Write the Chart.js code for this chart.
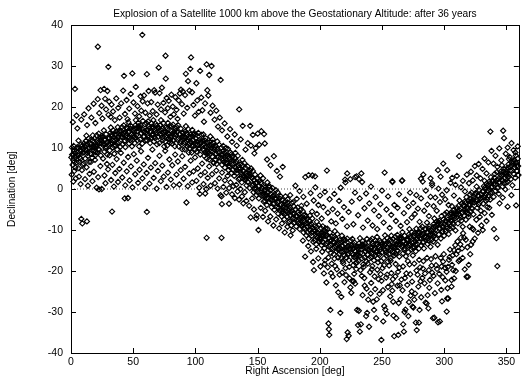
<!DOCTYPE html>
<html>
<head>
<meta charset="utf-8">
<script src="https://cdn.jsdelivr.net/npm/chart.js@4.4.0/dist/chart.umd.min.js"></script>
<style>
  html, body { margin: 0; padding: 0; background: #fff; }
  #wrap { width: 524px; height: 383px; }
</style>
</head>
<body>
<div id="wrap"><canvas id="chart" width="524" height="383"></canvas></div>
<script>
const chartTitle = "Explosion of a Satellite 1000 km above the Geostationary Altitude: after 36 years";
const xTitle = "Right Ascension [deg]";
const yTitle = "Declination [deg]";
const xTicks = [0, 50, 100, 150, 200, 250, 300, 350];
const yTicks = [-40, -30, -20, -10, 0, 10, 20, 30, 40];

// [right ascension, declination], dense band first
const bandNorth = [
  [0.3,7.7],[0.8,10.1],[1.2,5.9],[1.7,8.3],[2.1,10.5],[2.6,6.6],[3.0,8.8],[3.5,5.2],[4.1,8.1],[4.7,10.0],
  [5.1,10.2],[5.6,8.2],[6.0,11.8],[6.5,6.6],[7.3,9.5],[7.8,7.4],[8.3,10.9],[8.9,8.8],[9.4,5.9],[9.9,9.9],
  [10.4,8.9],[10.9,10.4],[11.4,7.4],[11.9,11.7],[12.4,13.0],[12.9,9.4],[13.2,11.0],[13.7,8.1],[14.2,12.3],[14.6,6.6],
  [15.2,11.2],[15.5,8.6],[16.1,12.0],[16.6,10.1],[17.0,7.6],[17.5,13.1],[18.1,10.5],[18.6,9.3],[19.0,12.3],[19.8,8.3],
  [20.1,10.7],[20.6,13.1],[21.0,8.9],[21.5,11.3],[22.3,13.5],[22.8,9.6],[23.3,11.8],[23.9,8.2],[24.4,11.1],[24.9,13.0],
  [25.4,12.7],[25.9,10.7],[26.4,14.3],[26.9,9.1],[27.4,12.0],[27.9,9.9],[28.2,13.4],[28.7,11.3],[29.2,8.4],[29.6,12.4],
  [30.2,10.9],[30.5,12.4],[31.1,9.4],[31.6,13.7],[32.0,15.0],[32.5,11.4],[33.1,13.0],[33.6,10.1],[34.0,14.3],[34.8,8.6],
  [35.3,13.2],[35.8,10.6],[36.2,14.0],[36.7,12.1],[37.1,9.6],[37.6,15.1],[38.0,12.5],[38.5,11.3],[39.1,14.3],[39.7,10.3],
  [40.4,12.7],[40.9,15.1],[41.4,10.9],[41.9,13.3],[42.4,15.5],[42.9,11.6],[43.2,13.8],[43.7,10.2],[44.2,13.1],[44.6,15.0],
  [45.2,14.7],[45.5,12.7],[46.1,16.3],[46.6,11.1],[47.0,14.0],[47.5,11.9],[48.1,15.4],[48.6,13.3],[49.0,10.4],[49.8,14.4],
  [50.3,12.7],[50.8,14.2],[51.2,11.2],[51.7,15.5],[52.1,16.8],[52.6,13.2],[53.0,14.8],[53.5,11.9],[54.1,16.1],[54.7,10.4],
  [55.1,14.7],[55.6,12.1],[56.0,15.5],[56.5,13.6],[57.3,11.1],[57.8,16.6],[58.3,14.0],[58.9,12.8],[59.4,15.8],[59.9,11.8],
  [60.2,13.7],[60.5,16.1],[61.1,11.9],[61.6,14.3],[62.0,16.5],[62.5,12.6],[63.1,14.8],[63.6,11.2],[64.0,14.1],[64.8,16.0],
  [65.3,15.2],[65.8,13.2],[66.2,16.8],[66.7,11.6],[67.1,14.5],[67.6,12.4],[68.0,15.9],[68.5,13.8],[69.1,10.9],[69.7,14.9],
  [70.1,12.7],[70.6,14.2],[71.0,11.2],[71.5,15.5],[72.3,16.8],[72.8,13.2],[73.3,14.8],[73.9,11.9],[74.4,16.1],[74.9,10.4],
  [75.4,14.2],[75.9,11.6],[76.4,15.0],[76.9,13.1],[77.4,10.6],[77.9,16.1],[78.2,13.5],[78.7,12.3],[79.2,15.3],[79.6,11.3],
  [80.3,12.9],[80.8,15.3],[81.2,11.1],[81.7,13.5],[82.1,15.7],[82.6,11.8],[83.0,14.0],[83.5,10.4],[84.1,13.3],[84.7,15.2],
  [85.1,14.0],[85.6,12.0],[86.0,15.6],[86.5,10.4],[87.3,13.3],[87.8,11.2],[88.3,14.7],[88.9,12.6],[89.4,9.7],[89.9,13.7],
  [90.4,11.2],[90.9,12.7],[91.4,9.7],[91.9,14.0],[92.4,15.3],[92.9,11.7],[93.2,13.3],[93.7,10.4],[94.2,14.6],[94.6,8.9],
  [95.2,12.5],[95.5,9.9],[96.1,13.3],[96.6,11.4],[97.0,8.9],[97.5,14.4],[98.1,11.8],[98.6,10.6],[99.0,13.6],[99.8,9.6],
  [100.1,10.9],[100.6,13.3],[101.0,9.1],[101.5,11.5],[102.3,13.7],[102.8,9.8],[103.3,12.0],[103.9,8.4],[104.4,11.3],[104.9,13.2],
  [105.4,11.7],[105.9,9.7],[106.4,13.3],[106.9,8.1],[107.4,11.0],[107.9,8.9],[108.2,12.4],[108.7,10.3],[109.2,7.4],[109.6,11.4],
  [110.2,8.7],[110.5,10.2],[111.1,7.2],[111.6,11.5],[112.0,12.8],[112.5,9.2],[113.1,10.8],[113.6,7.9],[114.0,12.1],[114.8,6.4],
  [115.3,9.7],[115.8,7.1],[116.2,10.5],[116.7,8.6],[117.1,6.1],[117.6,11.6],[118.0,9.0],[118.5,7.8],[119.1,10.8],[119.7,6.8],
  [120.4,7.7],[120.9,10.1],[121.4,5.9],[121.9,8.3],[122.4,10.5],[122.9,6.6],[123.2,8.8],[123.7,5.2],[124.2,8.1],[124.6,10.0],
  [125.2,8.2],[125.5,6.2],[126.1,9.8],[126.6,4.6],[127.0,7.5],[127.5,5.4],[128.1,8.9],[128.6,6.8],[129.0,3.9],[129.8,7.9],
  [130.3,4.7],[130.8,6.2],[131.2,3.2],[131.7,7.5],[132.1,8.8],[132.6,5.2],[133.0,6.8],[133.5,3.9],[134.1,8.1],[134.7,2.4],
  [135.1,5.2],[135.6,2.6],[136.0,6.0],[136.5,4.1],[137.3,1.6],[137.8,7.1],[138.3,4.5],[138.9,3.3],[139.4,6.3],[139.9,2.3],
  [140.2,2.7],[140.5,5.1],[141.1,0.9],[141.6,3.3],[142.0,5.5],[142.5,1.6],[143.1,3.8],[143.6,0.2],[144.0,3.1],[144.8,5.0],
  [145.3,2.8],[145.8,0.8],[146.2,4.4],[146.7,-0.8],[147.1,2.1],[147.6,0.0],[148.0,3.5],[148.5,1.4],[149.1,-1.5],[149.7,2.5],
  [150.1,-0.8],[150.6,0.7],[151.0,-2.3],[151.5,2.0],[152.3,3.3],[152.8,-0.3],[153.3,1.3],[153.9,-1.6],[154.4,2.6],[154.9,-3.1],
  [155.4,-0.3],[155.9,-2.9],[156.4,0.5],[156.9,-1.4],[157.4,-3.9],[157.9,1.6],[158.2,-1.0],[158.7,-2.2],[159.2,0.8],[159.6,-3.2],
  [160.3,-2.6],[160.8,-0.2],[161.2,-4.4],[161.7,-2.0],[162.1,0.2],[162.6,-3.7],[163.0,-1.5],[163.5,-5.1],[164.1,-2.2],[164.7,-0.3],
  [165.1,-2.4],[165.6,-4.4],[166.0,-0.8],[166.5,-6.0],[167.3,-3.1],[167.8,-5.2],[168.3,-1.7],[168.9,-3.8],[169.4,-6.7],[169.9,-2.7],
  [170.4,-5.9],[170.9,-4.4],[171.4,-7.4],[171.9,-3.1],[172.4,-1.8],[172.9,-5.4],[173.2,-3.8],[173.7,-6.7],[174.2,-2.5],[174.6,-8.2],
  [175.2,-5.3],[175.5,-7.9],[176.1,-4.5],[176.6,-6.4],[177.0,-8.9],[177.5,-3.4],[178.1,-6.0],[178.6,-7.2],[179.0,-4.2],[179.8,-8.2]
];

const bandSouth = [
  [180.1,-7.3],[180.6,-4.9],[181.0,-9.1],[181.5,-6.7],[182.3,-4.5],[182.8,-8.4],[183.3,-6.2],[183.9,-9.8],[184.4,-6.9],[184.9,-5.0],
  [185.4,-7.0],[185.9,-9.0],[186.4,-5.4],[186.9,-10.6],[187.4,-7.7],[187.9,-9.8],[188.2,-6.3],[188.7,-8.4],[189.2,-11.3],[189.6,-7.3],
  [190.2,-10.6],[190.5,-9.1],[191.1,-12.1],[191.6,-7.8],[192.0,-6.5],[192.5,-10.1],[193.1,-8.5],[193.6,-11.4],[194.0,-7.2],[194.8,-12.9],
  [195.3,-9.9],[195.8,-12.5],[196.2,-9.1],[196.7,-11.0],[197.1,-13.5],[197.6,-8.0],[198.0,-10.6],[198.5,-11.8],[199.1,-8.8],[199.7,-12.8],
  [200.4,-11.9],[200.9,-9.5],[201.4,-13.7],[201.9,-11.3],[202.4,-9.1],[202.9,-13.0],[203.2,-10.8],[203.7,-14.4],[204.2,-11.5],[204.6,-9.6],
  [205.2,-11.3],[205.5,-13.3],[206.1,-9.7],[206.6,-14.9],[207.0,-12.0],[207.5,-14.1],[208.1,-10.6],[208.6,-12.7],[209.0,-15.6],[209.8,-11.6],
  [210.3,-14.4],[210.8,-12.9],[211.2,-15.9],[211.7,-11.6],[212.1,-10.3],[212.6,-13.9],[213.0,-12.3],[213.5,-15.2],[214.1,-11.0],[214.7,-16.7],
  [215.1,-13.3],[215.6,-15.9],[216.0,-12.5],[216.5,-14.4],[217.3,-16.9],[217.8,-11.4],[218.3,-14.0],[218.9,-15.2],[219.4,-12.2],[219.9,-16.2],
  [220.2,-14.9],[220.5,-12.5],[221.1,-16.7],[221.6,-14.3],[222.0,-12.1],[222.5,-16.0],[223.1,-13.8],[223.6,-17.4],[224.0,-14.5],[224.8,-12.6],
  [225.3,-13.8],[225.8,-15.8],[226.2,-12.2],[226.7,-17.4],[227.1,-14.5],[227.6,-16.6],[228.0,-13.1],[228.5,-15.2],[229.1,-18.1],[229.7,-14.1],
  [230.1,-16.1],[230.6,-14.6],[231.0,-17.6],[231.5,-13.3],[232.3,-12.0],[232.8,-15.6],[233.3,-14.0],[233.9,-16.9],[234.4,-12.7],[234.9,-18.4],
  [235.4,-14.1],[235.9,-16.7],[236.4,-13.3],[236.9,-15.2],[237.4,-17.7],[237.9,-12.2],[238.2,-14.8],[238.7,-16.0],[239.2,-13.0],[239.6,-17.0],
  [240.3,-14.9],[240.8,-12.5],[241.2,-16.7],[241.7,-14.3],[242.1,-12.1],[242.6,-16.0],[243.0,-13.8],[243.5,-17.4],[244.1,-14.5],[244.7,-12.6],
  [245.1,-13.3],[245.6,-15.3],[246.0,-11.7],[246.5,-16.9],[247.3,-14.0],[247.8,-16.1],[248.3,-12.6],[248.9,-14.7],[249.4,-17.6],[249.9,-13.6],
  [250.4,-15.4],[250.9,-13.9],[251.4,-16.9],[251.9,-12.6],[252.4,-11.3],[252.9,-14.9],[253.2,-13.3],[253.7,-16.2],[254.2,-12.0],[254.6,-17.7],
  [255.2,-13.3],[255.5,-15.9],[256.1,-12.5],[256.6,-14.4],[257.0,-16.9],[257.5,-11.4],[258.1,-14.0],[258.6,-15.2],[259.0,-12.2],[259.8,-16.2],
  [260.1,-14.0],[260.6,-11.6],[261.0,-15.8],[261.5,-13.4],[262.3,-11.2],[262.8,-15.1],[263.3,-12.9],[263.9,-16.5],[264.4,-13.6],[264.9,-11.7],
  [265.4,-12.1],[265.9,-14.1],[266.4,-10.5],[266.9,-15.7],[267.4,-12.8],[267.9,-14.9],[268.2,-11.4],[268.7,-13.5],[269.2,-16.4],[269.6,-12.4],
  [270.2,-13.9],[270.5,-12.4],[271.1,-15.4],[271.6,-11.1],[272.0,-9.8],[272.5,-13.4],[273.1,-11.8],[273.6,-14.7],[274.0,-10.5],[274.8,-16.2],
  [275.3,-11.6],[275.8,-14.2],[276.2,-10.8],[276.7,-12.7],[277.1,-15.2],[277.6,-9.7],[278.0,-12.3],[278.5,-13.5],[279.1,-10.5],[279.7,-14.5],
  [280.4,-12.0],[280.9,-9.6],[281.4,-13.8],[281.9,-11.4],[282.4,-9.2],[282.9,-13.1],[283.2,-10.9],[283.7,-14.5],[284.2,-11.6],[284.6,-9.7],
  [285.2,-9.8],[285.5,-11.8],[286.1,-8.2],[286.6,-13.4],[287.0,-10.5],[287.5,-12.6],[288.1,-9.1],[288.6,-11.2],[289.0,-14.1],[289.8,-10.1],
  [290.3,-11.3],[290.8,-9.8],[291.2,-12.8],[291.7,-8.5],[292.1,-7.2],[292.6,-10.8],[293.0,-9.2],[293.5,-12.1],[294.1,-7.9],[294.7,-13.6],
  [295.1,-8.5],[295.6,-11.1],[296.0,-7.7],[296.5,-9.6],[297.3,-12.1],[297.8,-6.6],[298.3,-9.2],[298.9,-10.4],[299.4,-7.4],[299.9,-11.4],
  [300.2,-8.5],[300.5,-6.1],[301.1,-10.3],[301.6,-7.9],[302.0,-5.7],[302.5,-9.6],[303.1,-7.4],[303.6,-11.0],[304.0,-8.1],[304.8,-6.2],
  [305.3,-5.8],[305.8,-7.8],[306.2,-4.2],[306.7,-9.4],[307.1,-6.5],[307.6,-8.6],[308.0,-5.1],[308.5,-7.2],[309.1,-10.1],[309.7,-6.1],
  [310.1,-6.9],[310.6,-5.4],[311.0,-8.4],[311.5,-4.1],[312.3,-2.8],[312.8,-6.4],[313.3,-4.8],[313.9,-7.7],[314.4,-3.5],[314.9,-9.2],
  [315.4,-3.9],[315.9,-6.5],[316.4,-3.1],[316.9,-5.0],[317.4,-7.5],[317.9,-2.0],[318.2,-4.6],[318.7,-5.8],[319.2,-2.8],[319.6,-6.8],
  [320.3,-3.7],[320.8,-1.3],[321.2,-5.5],[321.7,-3.1],[322.1,-0.9],[322.6,-4.8],[323.0,-2.6],[323.5,-6.2],[324.1,-3.3],[324.7,-1.4],
  [325.1,-1.0],[325.6,-3.0],[326.0,0.6],[326.5,-4.6],[327.3,-1.7],[327.8,-3.8],[328.3,-0.3],[328.9,-2.4],[329.4,-5.3],[329.9,-1.3],
  [330.4,-2.1],[330.9,-0.6],[331.4,-3.6],[331.9,0.7],[332.4,2.0],[332.9,-1.6],[333.2,0.0],[333.7,-2.9],[334.2,1.3],[334.6,-4.4],
  [335.2,1.0],[335.5,-1.6],[336.1,1.8],[336.6,-0.1],[337.0,-2.6],[337.5,2.9],[338.1,0.3],[338.6,-0.9],[339.0,2.1],[339.8,-1.9],
  [340.1,1.3],[340.6,3.7],[341.0,-0.5],[341.5,1.9],[342.3,4.1],[342.8,0.2],[343.3,2.4],[343.9,-1.2],[344.4,1.7],[344.9,3.6],
  [345.4,4.2],[345.9,2.2],[346.4,5.8],[346.9,0.6],[347.4,3.5],[347.9,1.4],[348.2,4.9],[348.7,2.8],[349.2,-0.1],[349.6,3.9],
  [350.2,3.2],[350.5,4.7],[351.1,1.7],[351.6,6.0],[352.0,7.3],[352.5,3.7],[353.1,5.3],[353.6,2.4],[354.0,6.6],[354.8,0.9],
  [355.3,6.3],[355.8,3.7],[356.2,7.1],[356.7,5.2],[357.1,2.7],[357.6,8.2],[358.0,5.6],[358.5,4.4],[359.1,7.4],[359.7,3.4]
];

// the blackest middle of the band
const bandCore = [
  [0.9,8.4],[1.9,7.0],[2.7,9.3],[3.8,7.8],[4.6,6.5],[5.2,8.3],[6.1,9.9],[7.0,7.7],[8.0,9.2],[9.0,10.5],
  [10.5,11.1],[11.4,9.6],[12.4,10.6],[13.3,8.8],[14.4,10.0],[15.9,10.9],[16.9,9.5],[17.7,11.8],[18.8,10.3],[19.6,9.0],
  [20.2,10.3],[21.1,11.9],[22.0,9.7],[23.0,11.2],[24.0,12.5],[25.5,12.6],[26.4,11.1],[27.4,12.1],[28.3,10.3],[29.4,11.5],
  [30.9,12.4],[31.9,11.0],[32.7,13.3],[33.8,11.8],[34.6,10.5],[35.2,11.8],[36.1,13.4],[37.0,11.2],[38.0,12.7],[39.0,14.0],
  [40.5,14.1],[41.4,12.6],[42.4,13.6],[43.3,11.8],[44.4,13.0],[45.9,13.9],[46.9,12.5],[47.7,14.8],[48.8,13.3],[49.6,12.0],
  [50.2,13.1],[51.1,14.7],[52.0,12.5],[53.0,14.0],[54.0,15.3],[55.5,15.1],[56.4,13.6],[57.4,14.6],[58.3,12.8],[59.4,14.0],
  [60.9,14.4],[61.9,13.0],[62.7,15.3],[63.8,13.8],[64.6,12.5],[65.2,13.3],[66.1,14.9],[67.0,12.7],[68.0,14.2],[69.0,15.5],
  [70.5,14.9],[71.4,13.4],[72.4,14.4],[73.3,12.6],[74.4,13.8],[75.9,13.9],[76.9,12.5],[77.7,14.8],[78.8,13.3],[79.6,12.0],
  [80.2,12.5],[81.1,14.1],[82.0,11.9],[83.0,13.4],[84.0,14.7],[85.5,13.9],[86.4,12.4],[87.4,13.4],[88.3,11.6],[89.4,12.8],
  [90.9,12.7],[91.9,11.3],[92.7,13.6],[93.8,12.1],[94.6,10.8],[95.2,11.1],[96.1,12.7],[97.0,10.5],[98.0,12.0],[99.0,13.3],
  [100.5,12.3],[101.4,10.8],[102.4,11.8],[103.3,10.0],[104.4,11.2],[105.9,10.9],[106.9,9.5],[107.7,11.8],[108.8,10.3],[109.6,9.0],
  [110.2,9.1],[111.1,10.7],[112.0,8.5],[113.0,10.0],[114.0,11.3],[115.5,10.1],[116.4,8.6],[117.4,9.6],[118.3,7.8],[119.4,9.0],
  [120.9,8.4],[121.9,7.0],[122.7,9.3],[123.8,7.8],[124.6,6.5],[125.2,6.3],[126.1,7.9],[127.0,5.7],[128.0,7.2],[129.0,8.5],
  [130.5,6.9],[131.4,5.4],[132.4,6.4],[133.3,4.6],[134.4,5.8],[135.9,4.9],[136.9,3.5],[137.7,5.8],[138.8,4.3],[139.6,3.0],
  [140.2,2.3],[141.1,3.9],[142.0,1.7],[143.0,3.2],[144.0,4.5],[145.5,2.7],[146.4,1.2],[147.4,2.2],[148.3,0.4],[149.4,1.6],
  [150.9,0.7],[151.9,-0.7],[152.7,1.6],[153.8,0.1],[154.6,-1.2],[155.2,-1.7],[156.1,-0.1],[157.0,-2.3],[158.0,-0.8],[159.0,0.5],
  [160.5,-1.2],[161.4,-2.7],[162.4,-1.7],[163.3,-3.5],[164.4,-2.3],[165.9,-3.2],[166.9,-4.6],[167.7,-2.3],[168.8,-3.8],[169.6,-5.1],
  [170.2,-5.5],[171.1,-3.9],[172.0,-6.1],[173.0,-4.6],[174.0,-3.3],[175.5,-4.9],[176.4,-6.4],[177.4,-5.4],[178.3,-7.2],[179.4,-6.0],
  [180.9,-6.6],[181.9,-8.0],[182.7,-5.7],[183.8,-7.2],[184.6,-8.5],[185.2,-8.9],[186.1,-7.3],[187.0,-9.5],[188.0,-8.0],[189.0,-6.7],
  [190.5,-8.4],[191.4,-9.9],[192.4,-8.9],[193.3,-10.7],[194.4,-9.5],[195.9,-10.2],[196.9,-11.6],[197.7,-9.3],[198.8,-10.8],[199.6,-12.1],
  [200.2,-12.3],[201.1,-10.7],[202.0,-12.9],[203.0,-11.4],[204.0,-10.1],[205.5,-11.4],[206.4,-12.9],[207.4,-11.9],[208.3,-13.7],[209.4,-12.5],
  [210.9,-12.9],[211.9,-14.3],[212.7,-12.0],[213.8,-13.5],[214.6,-14.8],[215.2,-14.7],[216.1,-13.1],[217.0,-15.3],[218.0,-13.8],[219.0,-12.5],
  [220.5,-13.5],[221.4,-15.0],[222.4,-14.0],[223.3,-15.8],[224.4,-14.6],[225.9,-14.6],[226.9,-16.0],[227.7,-13.7],[228.8,-15.2],[229.6,-16.5],
  [230.2,-15.7],[231.1,-14.1],[232.0,-16.3],[233.0,-14.8],[234.0,-13.5],[235.5,-13.7],[236.4,-15.2],[237.4,-14.2],[238.3,-16.0],[239.4,-14.8],
  [240.9,-14.2],[241.9,-15.6],[242.7,-13.3],[243.8,-14.8],[244.6,-16.1],[245.2,-15.2],[246.1,-13.6],[247.0,-15.8],[248.0,-14.3],[249.0,-13.0],
  [250.5,-13.2],[251.4,-14.7],[252.4,-13.7],[253.3,-15.5],[254.4,-14.3],[255.9,-13.6],[256.9,-15.0],[257.7,-12.7],[258.8,-14.2],[259.6,-15.5],
  [260.2,-14.4],[261.1,-12.8],[262.0,-15.0],[263.0,-13.5],[264.0,-12.2],[265.5,-12.2],[266.4,-13.7],[267.4,-12.7],[268.3,-14.5],[269.4,-13.3],
  [270.9,-12.4],[271.9,-13.8],[272.7,-11.5],[273.8,-13.0],[274.6,-14.3],[275.2,-13.0],[276.1,-11.4],[277.0,-13.6],[278.0,-12.1],[279.0,-10.8],
  [280.5,-10.6],[281.4,-12.1],[282.4,-11.1],[283.3,-12.9],[284.4,-11.7],[285.9,-10.6],[286.9,-12.0],[287.7,-9.7],[288.8,-11.2],[289.6,-12.5],
  [290.2,-10.9],[291.1,-9.3],[292.0,-11.5],[293.0,-10.0],[294.0,-8.7],[295.5,-8.1],[296.4,-9.6],[297.4,-8.6],[298.3,-10.4],[299.4,-9.2],
  [300.9,-7.8],[301.9,-9.2],[302.7,-6.9],[303.8,-8.4],[304.6,-9.7],[305.2,-7.7],[306.1,-6.1],[307.0,-8.3],[308.0,-6.8],[309.0,-5.5],
  [310.5,-4.7],[311.4,-6.2],[312.4,-5.2],[313.3,-7.0],[314.4,-5.8],[315.9,-4.2],[316.9,-5.6],[317.7,-3.3],[318.8,-4.8],[319.6,-6.1],
  [320.2,-4.1],[321.1,-2.5],[322.0,-4.7],[323.0,-3.2],[324.0,-1.9],[325.5,-1.1],[326.4,-2.6],[327.4,-1.6],[328.3,-3.4],[329.4,-2.2],
  [330.9,-0.6],[331.9,-2.0],[332.7,0.3],[333.8,-1.2],[334.6,-2.5],[335.2,-0.4],[336.1,1.2],[337.0,-1.0],[338.0,0.5],[339.0,1.8],
  [340.5,2.7],[341.4,1.2],[342.4,2.2],[343.3,0.4],[344.4,1.6],[345.9,3.4],[346.9,2.0],[347.7,4.3],[348.8,2.8],[349.6,1.5],
  [350.2,3.6],[351.1,5.2],[352.0,3.0],[353.0,4.5],[354.0,5.8],[355.5,6.7],[356.4,5.2],[357.4,6.2],[358.3,4.4],[359.4,5.6]
];

// fragments spread north of the band (RA 0-170)
const scatterNorthHigh = [
  [1.5,16.3],[3.2,24.4],[5.1,14.8],[4.4,17.9],[8.3,16.9],[10.6,18.2],[12.9,15.6],[14.1,19.7],[16.4,17.4],[18.2,20.8],
  [19.6,16.1],[21.5,21.9],[21.6,34.7],[22.7,18.5],[23.8,24.1],[24.6,20.3],[25.3,17.2],[26.6,24.4],[27.4,22.0],[28.2,19.4],
  [29.3,23.9],[30.1,18.1],[30.0,29.8],[30.7,21.3],[31.9,17.6],[32.6,20.6],[33.8,18.9],[35.2,16.8],[36.4,22.1],[37.9,19.8],
  [39.1,17.4],[40.3,20.9],[41.9,24.0],[42.6,27.6],[43.4,18.3],[44.7,21.7],[45.5,17.0],[46.8,19.6],[48.0,23.2],[49.3,28.2],
  [50.2,21.1],[51.4,18.4],[52.1,24.9],[53.5,20.2],[54.8,17.7],[55.9,22.6],[56.5,19.1],[57.3,37.6],[57.6,21.4],[58.7,22.8],
  [59.8,18.6],[61.0,28.0],[61.6,20.9],[62.4,23.9],[63.3,17.9],[64.5,21.2],[65.7,19.0],[66.9,24.1],[67.6,23.5],[68.8,18.2],
  [69.7,20.6],[70.5,29.6],[71.2,23.4],[72.4,19.4],[73.1,24.7],[74.3,21.0],[75.6,18.7],[76.0,32.5],[76.2,26.9],[76.9,22.2],
  [77.8,19.7],[78.6,21.5],[79.9,17.6],[80.7,23.0],[81.8,20.1],[82.6,18.2],[83.9,22.4],[84.8,19.3],[85.7,17.1],[86.6,21.6],
  [87.5,23.3],[88.4,24.2],[89.2,20.7],[89.9,23.8],[90.6,18.4],[91.7,22.9],[92.3,28.1],[93.4,19.8],[94.1,26.3],[95.2,24.0],
  [95.9,29.3],[96.5,32.1],[97.3,23.6],[98.4,20.5],[99.6,17.9],[100.8,25.8],[101.5,21.6],[102.6,18.8],[103.8,28.8],[104.7,22.3],
  [105.6,19.2],[106.9,16.4],[107.8,20.9],[109.0,30.4],[109.6,24.1],[110.4,22.8],[111.1,27.8],[112.2,18.6],[113.0,30.0],[113.8,20.3],
  [115.4,16.9],[116.8,19.1],[118.2,15.2],[119.6,17.4],[120.3,26.6],[121.4,14.3],[123.5,16.0],[125.7,12.8],[127.9,14.6],[129.4,11.5],
  [131.6,13.3],[133.2,10.6],[135.2,19.4],[136.4,12.1],[138.0,15.4],[140.3,9.6],[142.1,11.2],[144.0,15.4],[144.6,10.6],[146.2,13.2],
  [147.4,8.7],[148.5,10.0],[150.1,13.5],[151.3,10.8],[153.0,14.1],[155.2,13.4],[155.8,11.1],[157.6,7.2],[160.4,5.8],[163.1,8.0],
  [165.5,4.4],[168.0,3.0],[170.2,5.4]
];

const scatterNorthLow = [
  [0.6,3.5],[1.9,1.8],[2.7,4.4],[3.9,2.6],[5.8,5.1],[6.4,3.0],[7.7,1.2],[8.8,4.6],[10.1,6.2],[11.3,2.4],
  [12.5,5.3],[13.6,0.8],[14.9,3.7],[16.0,6.6],[17.2,1.9],[18.4,4.2],[19.3,7.1],[20.6,0.3],[21.8,2.9],[22.5,-0.1],
  [23.6,5.6],[24.7,0.0],[25.8,7.4],[26.9,3.3],[27.7,1.4],[28.9,6.1],[29.8,4.8],[31.1,8.2],[32.2,2.2],[33.3,5.9],
  [34.5,0.6],[35.6,3.9],[36.7,7.3],[37.8,1.7],[38.9,4.9],[40.1,8.8],[41.2,2.8],[42.4,6.4],[43.6,0.9],[44.8,4.3],
  [45.9,7.8],[47.1,2.1],[48.2,5.5],[49.4,0.4],[50.5,8.5],[51.6,3.6],[52.9,6.9],[53.9,1.5],[55.1,4.7],[56.3,9.2],
  [57.4,2.6],[58.5,6.0],[59.7,0.2],[60.8,3.9],[61.9,7.6],[63.1,1.3],[64.2,5.2],[65.4,9.6],[66.5,2.7],[67.7,6.3],
  [68.8,0.1],[69.9,4.4],[71.1,8.1],[72.2,1.9],[73.4,5.7],[74.5,3.0],[75.7,9.3],[76.8,0.5],[77.9,4.0],[79.1,7.2],
  [80.2,2.3],[81.4,5.8],[82.5,0.9],[83.7,8.4],[84.8,3.5],[85.9,6.7],[87.1,1.1],[88.2,4.6],[89.4,8.0],[90.5,2.5],
  [91.7,5.4],[92.8,-3.3],[93.9,0.7],[95.1,3.8],[96.2,6.9],[97.4,1.6],[98.5,4.3],[99.7,7.7],[100.8,2.0],[101.9,5.0],
  [103.1,0.3],[104.2,3.4],[105.4,6.2],[106.5,1.2],[107.7,4.1],[108.8,0.0],[109.9,2.7],[111.1,5.5],[112.2,0.8],[113.4,3.6],
  [114.5,6.4],[115.7,1.4],[116.8,4.5],[117.9,0.1],[119.1,2.6],[120.2,-1.5],[121.4,4.0],[122.5,0.5],[123.7,2.1],[124.8,-0.9],
  [125.9,3.2],[127.1,0.2],[128.2,1.6],[129.4,-1.3],[130.5,0.7],[131.7,-2.2],[132.8,1.0],[133.9,-0.6],[135.1,-2.6],[136.2,0.0],
  [137.4,-1.8],[138.5,-3.5],[139.7,-0.8],[141.0,-2.9],[143.2,-4.1],[144.4,-6.9],[145.6,-2.3],[147.1,-5.0],[148.9,-7.2],[150.7,-10.0],
  [149.4,-6.4],[152.5,-4.6],[154.3,-6.8],[156.1,-5.3],[158.4,-7.9],[160.2,-6.7],[162.7,-8.9],[164.9,-7.4],[167.3,-9.6],[169.6,-8.4],
  [171.8,-10.6],[174.0,-9.2],[176.5,-11.3],[178.2,-10.1],
  [8.3,-7.3],[9.1,-8.4],[12.8,-7.9],[33.0,-5.5],[61.0,-5.6],[43.2,-2.3],[45.8,-2.2],[109.0,-11.9],[121.0,-11.9],[121.3,-3.7],
  [127.0,-3.6],[121.0,-1.8],[103.5,-1.2],[107.9,-1.1]
];

// fragments spread south of the band (RA 170-360)
const scatterSouthHigh = [
  [176.2,-1.5],[178.6,-3.2],[180.4,0.8],[181.5,-2.4],[183.7,-0.5],[185.2,-4.1],[186.8,-1.9],[188.3,2.9],[189.5,-3.6],[191.0,3.4],
  [192.6,-1.0],[193.8,-5.5],[195.1,-2.8],[196.4,0.4],[197.7,-6.1],[198.9,-3.9],[200.2,-1.6],[201.5,-7.2],[202.8,-4.4],[204.1,-0.7],
  [205.7,4.5],[206.5,-5.8],[207.9,-2.5],[209.2,-7.9],[210.4,-4.9],[211.7,-1.2],[212.9,-8.4],[214.3,-6.0],[215.5,-2.9],[216.8,0.3],
  [218.1,-7.3],[219.4,-4.4],[220.6,1.6],[221.9,-9.1],[223.2,-5.6],[224.5,2.4],[225.7,-3.1],[227.0,-8.6],[228.3,-0.9],[229.6,3.1],
  [230.8,-6.4],[232.1,-2.3],[233.4,3.8],[234.7,-9.4],[235.9,-4.7],[237.2,-1.1],[238.5,-7.7],[239.8,-3.5],[241.1,0.6],[242.4,-8.9],
  [243.6,-5.2],[244.9,-2.0],[246.2,-9.8],[247.5,-6.6],[248.7,-3.7],[250.0,-0.4],[251.3,-8.2],[252.1,4.0],[253.6,-5.0],[254.9,-1.8],
  [256.2,-9.5],[257.4,-6.3],[258.3,1.9],[259.9,-3.9],[261.2,-7.8],[262.5,-4.6],[263.7,-1.3],[265.0,-9.0],[266.3,2.1],[267.6,-5.9],
  [268.8,-2.6],[270.1,-8.1],[271.3,-4.3],[272.6,-0.9],[273.8,-7.0],[275.1,-3.4],[276.4,-6.1],[277.6,-1.5],[278.9,-4.8],[280.2,-8.0],
  [281.4,-2.3],[282.7,1.8],[283.9,-5.3],[285.2,-0.4],[286.5,-3.8],[287.7,-6.6],[289.0,-1.9],[290.3,0.9],[291.5,-4.2],[292.8,-2.1],
  [294.0,-5.3],[295.3,0.1],[296.6,-3.2],[297.1,3.0],[298.3,-1.4],[299.2,6.2],[300.8,-2.5],[302.0,-0.3],[303.5,-3.9],[305.1,1.5],
  [306.4,2.7],[307.8,-1.6],[309.1,1.0],[310.2,3.2],[312.0,8.0],[313.5,0.4],[315.0,2.0],[316.7,-0.6],[318.2,3.5],[319.9,1.4],
  [321.5,4.2],[323.0,2.1],[324.6,5.6],[326.1,3.3],[327.7,6.1],[329.2,2.6],[330.8,4.9],[332.4,7.4],[334.0,3.8],[335.5,6.5],
  [337.1,14.0],[338.0,9.3],[339.6,6.2],[341.2,8.1],[342.7,5.4],[344.3,9.9],[345.9,7.0],[347.4,14.2],[348.1,12.4],[349.5,8.6],
  [351.0,10.1],[352.6,7.8],[354.1,11.2],[355.7,9.5],[357.2,8.9],[358.0,6.4],[359.1,10.4],
  [194.0,3.3],[196.2,3.1],[222.0,3.8],[228.4,2.9],[231.5,2.4],[234.0,1.7],[220.3,2.3],[258.4,1.7],[266.0,2.0],[281.3,2.5],
  [283.2,3.5],[295.0,4.6],[302.4,4.6],[289.0,2.6],[290.2,1.4]
];

const scatterSouthLow = [
  [186.4,-12.6],[188.2,-16.5],[190.7,-13.9],[192.9,-15.2],[194.6,-17.8],[195.3,-19.8],[197.1,-14.6],[198.8,-16.9],[200.5,-18.9],[201.9,-15.3],
  [203.3,-20.6],[204.2,-17.4],[205.3,-22.8],[206.4,-19.1],[207.0,-32.8],[207.3,-34.2],[207.6,-35.6],[208.5,-29.5],[209.6,-18.2],[210.4,-21.4],
  [211.8,-17.0],[212.9,-23.5],[213.7,-19.6],[214.8,-25.2],[216.5,-30.2],[217.3,-26.3],[217.9,-20.4],[218.8,-18.1],[219.8,-22.7],[220.7,-19.3],
  [221.6,-36.6],[222.4,-35.0],[223.2,-35.8],[223.9,-21.8],[224.6,-24.0],[225.3,-25.3],[225.9,-22.4],[226.8,-18.6],[227.6,-20.7],[228.4,-23.1],
  [229.3,-19.5],[230.0,-29.5],[230.7,-33.2],[231.4,-29.7],[232.2,-34.8],[233.0,-33.0],[233.8,-21.2],[234.4,-25.9],[235.3,-19.0],[236.1,-23.6],
  [237.2,-31.0],[238.0,-30.2],[238.9,-27.0],[239.6,-33.6],[240.4,-20.3],[241.3,-22.9],[242.2,-18.8],[242.9,-27.5],[243.6,-29.5],[244.5,-24.4],
  [245.3,-31.5],[246.2,-19.7],[247.1,-22.0],[248.0,-25.6],[248.9,-20.8],[249.5,-36.8],[250.4,-19.3],[251.0,-32.3],[251.8,-28.6],[252.6,-29.4],
  [253.4,-21.6],[253.9,-30.4],[254.8,-23.9],[255.7,-18.7],[256.6,-26.2],[257.5,-20.5],[258.3,-24.8],[259.0,-27.5],[259.2,-30.9],[259.8,-35.9],
  [260.7,-21.3],[261.5,-31.5],[262.4,-23.6],[263.1,-35.6],[263.9,-19.2],[264.8,-26.9],[265.6,-22.1],[266.5,-24.7],[267.0,-33.0],[267.6,-34.8],
  [268.1,-30.0],[268.8,-29.4],[269.6,-20.6],[270.3,-23.4],[271.2,-31.0],[272.1,-18.4],[273.0,-26.0],[273.9,-25.0],[274.6,-28.7],[275.2,-28.9],
  [276.0,-27.0],[276.6,-25.5],[277.2,-32.6],[277.9,-34.4],[278.6,-20.9],[279.2,-23.8],[279.7,-32.6],[280.6,-19.1],[281.5,-26.4],[282.4,-21.7],
  [283.3,-17.6],[284.2,-23.0],[285.0,-27.7],[285.9,-27.9],[286.7,-25.9],[287.6,-19.8],[288.5,-22.2],[289.4,-17.1],[290.3,-20.4],[291.0,-31.5],
  [292.0,-31.4],[292.5,-25.4],[293.4,-18.6],[294.7,-23.0],[295.0,-32.5],[296.5,-32.3],[297.2,-16.8],[297.9,-18.9],[298.8,-21.5],[299.7,-15.9],
  [300.6,-19.2],[301.9,-20.2],[302.0,-29.9],[302.4,-26.7],[302.7,-24.2],[303.2,-26.7],[303.8,-17.3],[304.7,-14.8],[305.9,-23.8],[305.9,-22.2],
  [306.8,-16.2],[307.2,-19.8],[308.0,-21.8],[308.9,-13.7],[309.8,-15.9],[310.7,-12.8],[311.6,-17.6],[312.5,-17.3],[313.4,-11.9],[314.3,-14.5],
  [315.2,-10.8],[316.5,-19.6],[317.4,-12.4],[318.0,-21.4],[319.0,-21.4],[319.7,-18.5],[320.5,-9.2],[321.6,-13.6],[322.6,-9.6],[323.4,-9.9],
  [324.5,-12.1],[325.8,-7.5],[327.2,-10.7],[328.6,-6.8],[329.9,-8.9],[331.0,-10.0],[332.5,-5.9],[334.0,-7.8],[336.2,-4.6],[338.3,-6.3],
  [340.0,-9.8],[342.0,-12.0],[342.7,-18.8],[344.5,-3.5],[347.0,-2.1],[351.0,-4.3],[354.0,-1.5],[357.8,-4.0]
];

// the busier strip just under the southern band
const scatterSouthMid = [
  [203.9,-18.3],[206.9,-16.7],[209.0,-20.5],[212.3,-18.8],[215.9,-20.9],[218.4,-17.6],[221.1,-21.0],[223.7,-19.0],[227.2,-22.5],[229.8,-17.9],
  [232.7,-19.8],[235.8,-21.7],[237.6,-24.3],[238.5,-18.2],[240.9,-25.5],[241.8,-19.6],[244.0,-21.3],[245.8,-26.9],[246.8,-17.9],[249.6,-22.4],
  [250.8,-24.7],[251.7,-18.6],[254.1,-20.9],[256.9,-17.5],[257.8,-23.2],[258.7,-22.0],[261.0,-18.3],[262.9,-20.2],[263.4,-27.8],[264.3,-23.5],
  [266.9,-18.9],[268.4,-21.7],[270.8,-17.6],[271.7,-27.6],[272.7,-20.8],[274.2,-22.6],[275.9,-18.2],[277.7,-19.9],[279.9,-17.3],[280.2,-29.5],
  [281.0,-22.5],[282.9,-19.4],[284.6,-20.6],[286.2,-16.8],[287.3,-29.1],[288.0,-24.1],[289.9,-18.7],[291.4,-21.2],[293.0,-16.4],[294.2,-19.5],
  [296.0,-20.7],[297.6,-24.6],[298.2,-27.4],[299.1,-17.7],[300.9,-22.3],[303.0,-19.0],[304.3,-16.6],[306.3,-18.5],[307.9,-14.9],[309.3,-20.0],
  [311.1,-15.1],[313.0,-13.5],[314.8,-16.8],[316.1,-11.9],[318.6,-14.2],[320.9,-15.9],[322.9,-12.8]
];

const fontFamily = "'Liberation Sans', Arial, Helvetica, sans-serif";

const allPoints = [].concat(bandNorth, bandSouth, bandCore, scatterNorthHigh, scatterNorthLow,
  scatterSouthHigh, scatterSouthLow, scatterSouthMid)
  .map(([ra, dec]) => ({ x: ra, y: dec }));

// gnuplot style box: frame, inward ticks on all four sides, title over the plot
const framePlugin = {
  id: "frame",
  afterDraw(chart) {
    const { ctx, chartArea: area, scales } = chart;
    ctx.save();
    ctx.strokeStyle = "#000";
    ctx.lineWidth = 1;
    ctx.strokeRect(Math.round(area.left) + 0.5, Math.round(area.top) + 0.5,
      Math.round(area.right - area.left), Math.round(area.bottom - area.top));
    ctx.beginPath();
    xTicks.forEach((v) => {
      const px = Math.round(scales.x.getPixelForValue(v)) + 0.5;
      ctx.moveTo(px, area.bottom);
      ctx.lineTo(px, area.bottom - 5);
      ctx.moveTo(px, area.top);
      ctx.lineTo(px, area.top + 5);
    });
    yTicks.forEach((v) => {
      const py = Math.round(scales.y.getPixelForValue(v)) + 0.5;
      ctx.moveTo(area.left, py);
      ctx.lineTo(area.left + 5, py);
      ctx.moveTo(area.right, py);
      ctx.lineTo(area.right - 5, py);
    });
    ctx.stroke();

    ctx.fillStyle = "#000";
    ctx.font = "10.2px " + fontFamily;
    ctx.textAlign = "center";
    ctx.textBaseline = "alphabetic";
    ctx.fillText(chartTitle, (area.left + area.right) / 2, 16.5);
    ctx.restore();
  }
};

const ctx = document.getElementById("chart").getContext("2d");
new Chart(ctx, {
  type: "scatter",
  data: {
    datasets: [
      {
        type: "line",
        data: [{ x: 0, y: 0 }, { x: 360, y: 0 }],
        showLine: true,
        borderColor: "#444",
        borderWidth: 1,
        borderDash: [1, 2],
        pointRadius: 0,
        order: 2
      },
      {
        data: allPoints,
        pointStyle: "rectRot",
        pointRadius: 2.6,
        borderColor: "#000",
        backgroundColor: "rgba(0,0,0,0)",
        borderWidth: 1.15,
        clip: 4,
        order: 1
      }
    ]
  },
  options: {
    responsive: false,
    animation: false,
    events: [],
    layout: { padding: { top: 25, right: 3, left: 0, bottom: 0 } },
    plugins: {
      legend: { display: false },
      tooltip: { enabled: false },
      title: { display: false }
    },
    scales: {
      x: {
        type: "linear",
        min: 0,
        max: 360,
        afterBuildTicks: (scale) => { scale.ticks = xTicks.map((v) => ({ value: v })); },
        afterFit: (scale) => { scale.height = 30; },
        grid: { display: false, drawTicks: false },
        border: { display: false },
        ticks: { color: "#000", padding: 3, maxRotation: 0, autoSkip: false, font: { family: fontFamily, size: 10.5 } },
        title: { display: true, text: xTitle, color: "#000", padding: { top: 0, bottom: 6 }, font: { family: fontFamily, size: 10.2 } }
      },
      y: {
        type: "linear",
        min: -40,
        max: 40,
        afterBuildTicks: (scale) => { scale.ticks = yTicks.map((v) => ({ value: v })); },
        afterFit: (scale) => { scale.width = 71; },
        grid: { display: false, drawTicks: false },
        border: { display: false },
        ticks: { color: "#000", padding: 8, autoSkip: false, font: { family: fontFamily, size: 10.5 } },
        title: { display: true, text: yTitle, color: "#000", padding: { top: 6, bottom: 0 }, font: { family: fontFamily, size: 10.2 } }
      }
    }
  },
  plugins: [framePlugin]
});
</script>
</body>
</html>
